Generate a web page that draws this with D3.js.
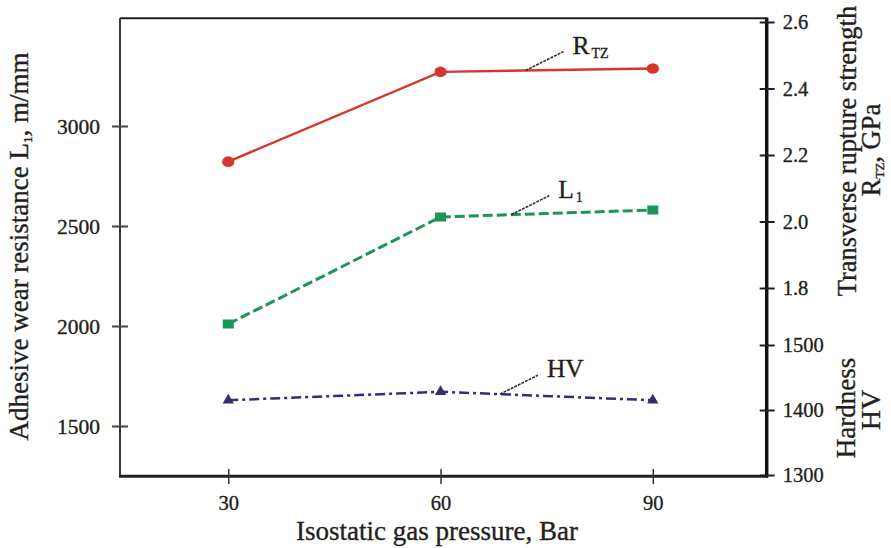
<!DOCTYPE html>
<html>
<head>
<meta charset="utf-8">
<script src="https://cdn.jsdelivr.net/npm/d3@7"></script>
<style>
  html, body { margin: 0; padding: 0; background: #fff; }
  svg { display: block; font-family: "Liberation Serif", "Times New Roman", serif; }
  .heavy { stroke: #231f20; stroke-width: 0.35px; }
</style>
</head>
<body>
<svg id="chart" width="891" height="548"></svg>
<script>
// Measured properties versus isostatic gas pressure
const pressures = [30, 60, 90];               // Bar
const rupture = [2.18, 2.45, 2.46];           // R_TZ, GPa
const wear = [2010, 2545, 2580];              // L1, m/mm
const hardness = [1415, 1428, 1415];          // HV

const xTicks = [30, 60, 90];
const wearTicks = [1500, 2000, 2500, 3000];
const ruptureTicks = [1.8, 2.0, 2.2, 2.4, 2.6];
const hardnessTicks = [1300, 1400, 1500];

const ink = "#231f20";
const serif = "Liberation Serif, Times New Roman, serif";
const svg = d3.select("#chart");

// Plot frame: left 120, right 766.7, top 18, bottom 476
const x = d3.scaleLinear([14.7, 106.1], [120, 766.7]);
const yWear = d3.scaleLinear([1250, 3540], [476, 18]);
const yRup = d3.scaleLinear([1.8, 2.6], [288, 22]);
const yHard = d3.scaleLinear([1300, 1500], [475, 345]);

// Frame lines
svg.append("line").attr("x1", 120).attr("x2", 766.7).attr("y1", 18.3).attr("y2", 18.3)
  .attr("stroke", ink).attr("stroke-width", 2);
svg.append("line").attr("x1", 120).attr("x2", 120).attr("y1", 18).attr("y2", 477)
  .attr("stroke", "#3a3a3a").attr("stroke-width", 2);
svg.append("line").attr("x1", 766.7).attr("x2", 766.7).attr("y1", 17.5).attr("y2", 477.5)
  .attr("stroke", "#111").attr("stroke-width", 3.5);
svg.append("line").attr("x1", 119).attr("x2", 768).attr("y1", 476.3).attr("y2", 476.3)
  .attr("stroke", ink).attr("stroke-width", 3);

function styleAxis(g, size) {
  g.select(".domain").remove();
  g.selectAll("text").attr("fill", ink).attr("font-size", size)
    .attr("font-family", serif).attr("class", "heavy");
}

// Left axis: adhesive wear resistance
const gLeft = svg.append("g").attr("transform", "translate(120,0)")
  .call(d3.axisLeft(yWear).tickValues(wearTicks).tickFormat(d3.format("d")));
styleAxis(gLeft, 21.5);
gLeft.selectAll(".tick line").attr("x1", -8).attr("x2", 8).attr("stroke", "#444").attr("stroke-width", 2);
gLeft.selectAll(".tick text").attr("x", -20).attr("dy", "0.34em");

// Bottom axis: pressure
const gBottom = svg.append("g").attr("transform", "translate(0,476)")
  .call(d3.axisBottom(x).tickValues(xTicks));
styleAxis(gBottom, 20.5);
gBottom.selectAll(".tick line").attr("y1", -7).attr("y2", 8).attr("stroke", "#333").attr("stroke-width", 1.5);
gBottom.selectAll(".tick text").attr("y", 34).attr("dy", 0);

// Right axis: rupture strength (upper) and hardness (lower)
const gRup = svg.append("g").attr("transform", "translate(766.7,0)")
  .call(d3.axisRight(yRup).tickValues(ruptureTicks).tickFormat(d3.format(".1f")));
styleAxis(gRup, 20.5);
gRup.selectAll(".tick line").attr("x1", -7).attr("x2", 8).attr("stroke", ink).attr("stroke-width", 2);
gRup.selectAll(".tick text").attr("x", 16).attr("dy", "0.34em");

const gHard = svg.append("g").attr("transform", "translate(766.7,0)")
  .call(d3.axisRight(yHard).tickValues(hardnessTicks).tickFormat(d3.format("d")));
styleAxis(gHard, 20.5);
gHard.selectAll(".tick line").attr("x1", -7).attr("x2", 8).attr("stroke", ink).attr("stroke-width", 2);
gHard.selectAll(".tick text").attr("x", 16).attr("dy", "0.34em");

// Series
const series = [
  { name: "R", values: rupture, y: yRup, color: "#d5372d", dash: null, width: 2.5, marker: "circle" },
  { name: "L", values: wear, y: yWear, color: "#1c9654", dash: "10,4", width: 3, marker: "square" },
  { name: "HV", values: hardness, y: yHard, color: "#352c73", dash: "10,4,3,4", width: 2.5, marker: "triangle" }
];

series.forEach(s => {
  const pts = pressures.map((p, i) => ({ p, v: s.values[i] }));
  const line = d3.line().x(d => x(d.p)).y(d => s.y(d.v));
  svg.append("path").datum(pts).attr("d", line)
    .attr("fill", "none").attr("stroke", s.color).attr("stroke-width", s.width)
    .attr("stroke-dasharray", s.dash);
  const m = svg.append("g").selectAll("g").data(pts).join("g")
    .attr("transform", d => `translate(${x(d.p)},${s.y(d.v)})`);
  if (s.marker === "circle") {
    m.append("ellipse").attr("rx", 6.2).attr("ry", 5.3).attr("fill", s.color);
  } else if (s.marker === "square") {
    m.append("rect").attr("x", -5.5).attr("y", -4.5).attr("width", 11).attr("height", 9).attr("fill", s.color);
  } else {
    m.append("path").attr("d", d3.symbol(d3.symbolTriangle, 55)).attr("fill", s.color);
  }
});

// Callout labels with short leader lines from the curves
function interp(values, p) {
  return d3.scaleLinear(pressures, values)(p);
}
const callouts = [
  { p: 72, y: yRup, values: rupture, main: "R", sub: "TZ" },
  { p: 70, y: yWear, values: wear, main: "L", sub: "1" },
  { p: 68.4, y: yHard, values: hardness, main: "HV", sub: "" }
];
callouts.forEach(c => {
  const x0 = x(c.p), y0 = c.y(interp(c.values, c.p));
  const x1 = x0 + 38, y1 = y0 - 19;
  svg.append("line").attr("x1", x0).attr("y1", y0).attr("x2", x1).attr("y2", y1)
    .attr("stroke", "#333").attr("stroke-width", 1.6).attr("stroke-dasharray", "3,1");
  const t = svg.append("text").attr("x", x1 + 9).attr("y", y1 + 2)
    .attr("font-size", 25.5).attr("fill", ink).attr("class", "heavy");
  t.append("tspan").text(c.main);
  if (c.sub) t.append("tspan").attr("font-size", 14).attr("dx", 2).attr("dy", 4).text(c.sub);
});

// Axis titles
const left = svg.append("text").attr("transform", "translate(28,246.5) rotate(-90)")
  .attr("text-anchor", "middle").attr("font-size", 27).attr("fill", ink).attr("class", "heavy");
left.append("tspan").text("Adhesive wear resistance L");
left.append("tspan").attr("font-size", 13).attr("dy", 4).text("1");
left.append("tspan").attr("dy", -4).text(", m/mm");

svg.append("text").attr("x", 437).attr("y", 540).attr("text-anchor", "middle")
  .attr("font-size", 27).attr("fill", ink).attr("class", "heavy")
  .text("Isostatic gas pressure, Bar");

svg.append("text").attr("transform", "translate(856,151) rotate(-90)")
  .attr("text-anchor", "middle").attr("font-size", 26.5).attr("fill", ink).attr("class", "heavy")
  .text("Transverse rupture strength");
const r2 = svg.append("text").attr("transform", "translate(880,150) rotate(-90)")
  .attr("text-anchor", "middle").attr("font-size", 26.5).attr("fill", ink).attr("class", "heavy");
r2.append("tspan").text("R");
r2.append("tspan").attr("font-size", 13).attr("dy", 4).text("TZ");
r2.append("tspan").attr("dy", -4).text(", GPa");

svg.append("text").attr("transform", "translate(855,408) rotate(-90)")
  .attr("text-anchor", "middle").attr("font-size", 27).attr("fill", ink).attr("class", "heavy")
  .text("Hardness");
svg.append("text").attr("transform", "translate(880,410) rotate(-90)")
  .attr("text-anchor", "middle").attr("font-size", 28).attr("fill", ink).attr("class", "heavy")
  .text("HV");
</script>
</body>
</html>
